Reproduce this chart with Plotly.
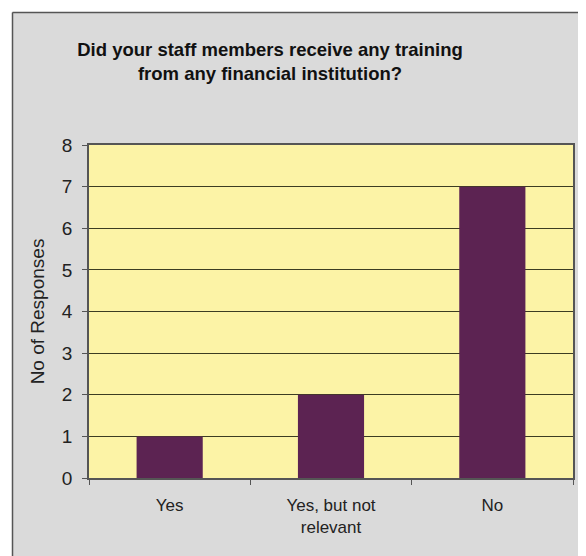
import plotly.graph_objects as go

# данные с графика
categories = ['Yes', 'Yes, but not<br>relevant', 'No']
responses = [1, 2, 7]
y_ticks = [0, 1, 2, 3, 4, 5, 6, 7, 8]

# страница сдвинута на 8px (отступ body), поэтому размеры меньше окна
W, H = 578, 548
L, R, T, B = 81, 13, 137, 78

fig = go.Figure(go.Bar(
    x=categories,
    y=responses,
    marker=dict(color='#5c2352', line=dict(width=0)),
    width=0.41,
))

fig.update_layout(
    width=W, height=H,
    margin=dict(l=L, r=R, t=T, b=B),
    paper_bgcolor='#dadada',
    plot_bgcolor='#fcf3a6',
    font=dict(family='Liberation Sans, Arial', size=19, color='#222222'),
    title=dict(
        text='<b>Did your staff members receive any training<br>from any financial institution?</b>',
        x=262 / W, xanchor='center', xref='container',
        y=1 - 48 / H, yanchor='middle', yref='container',
        font=dict(size=18.5, color='#111111', family='Liberation Sans, Arial'),
    ),
    showlegend=False,
)

fig.update_yaxes(
    range=[0, 8], tickvals=y_ticks,
    showgrid=True, gridcolor='#3c3c22', gridwidth=1.3,
    ticks='outside', ticklen=5, tickcolor='#555555',
    showline=True, linecolor='#555555', linewidth=1.5, mirror=True,
    ticklabelstandoff=6,
    title=dict(text='No of Responses', font=dict(size=19), standoff=12),
    zeroline=False,
)
fig.update_xaxes(
    showline=True, linecolor='#555555', linewidth=1.5, mirror=True,
    ticks='outside', ticklen=5, tickcolor='#555555', tickson='boundaries',
    tickfont=dict(size=17), ticklabelstandoff=11,
    showgrid=False,
)

# белые поля и рамка вокруг серого фона
def px_x(p):
    return (p - L) / (W - L - R)

def px_y(p):
    return (H - B - p) / (H - T - B)

fig.add_shape(type='rect', xref='paper', yref='paper',
              x0=px_x(0), x1=px_x(4), y0=px_y(H), y1=px_y(0),
              fillcolor='white', line=dict(width=0), layer='below')
fig.add_shape(type='rect', xref='paper', yref='paper',
              x0=px_x(0), x1=px_x(W), y0=px_y(4), y1=px_y(0),
              fillcolor='white', line=dict(width=0), layer='below')
fig.add_shape(type='line', xref='paper', yref='paper',
              x0=px_x(4.5), x1=px_x(4.5), y0=px_y(H), y1=px_y(4.5),
              line=dict(color='#555555', width=1.5))
fig.add_shape(type='line', xref='paper', yref='paper',
              x0=px_x(4.5), x1=px_x(W), y0=px_y(4.5), y1=px_y(4.5),
              line=dict(color='#555555', width=1.5))

fig.write_html('out.html')
